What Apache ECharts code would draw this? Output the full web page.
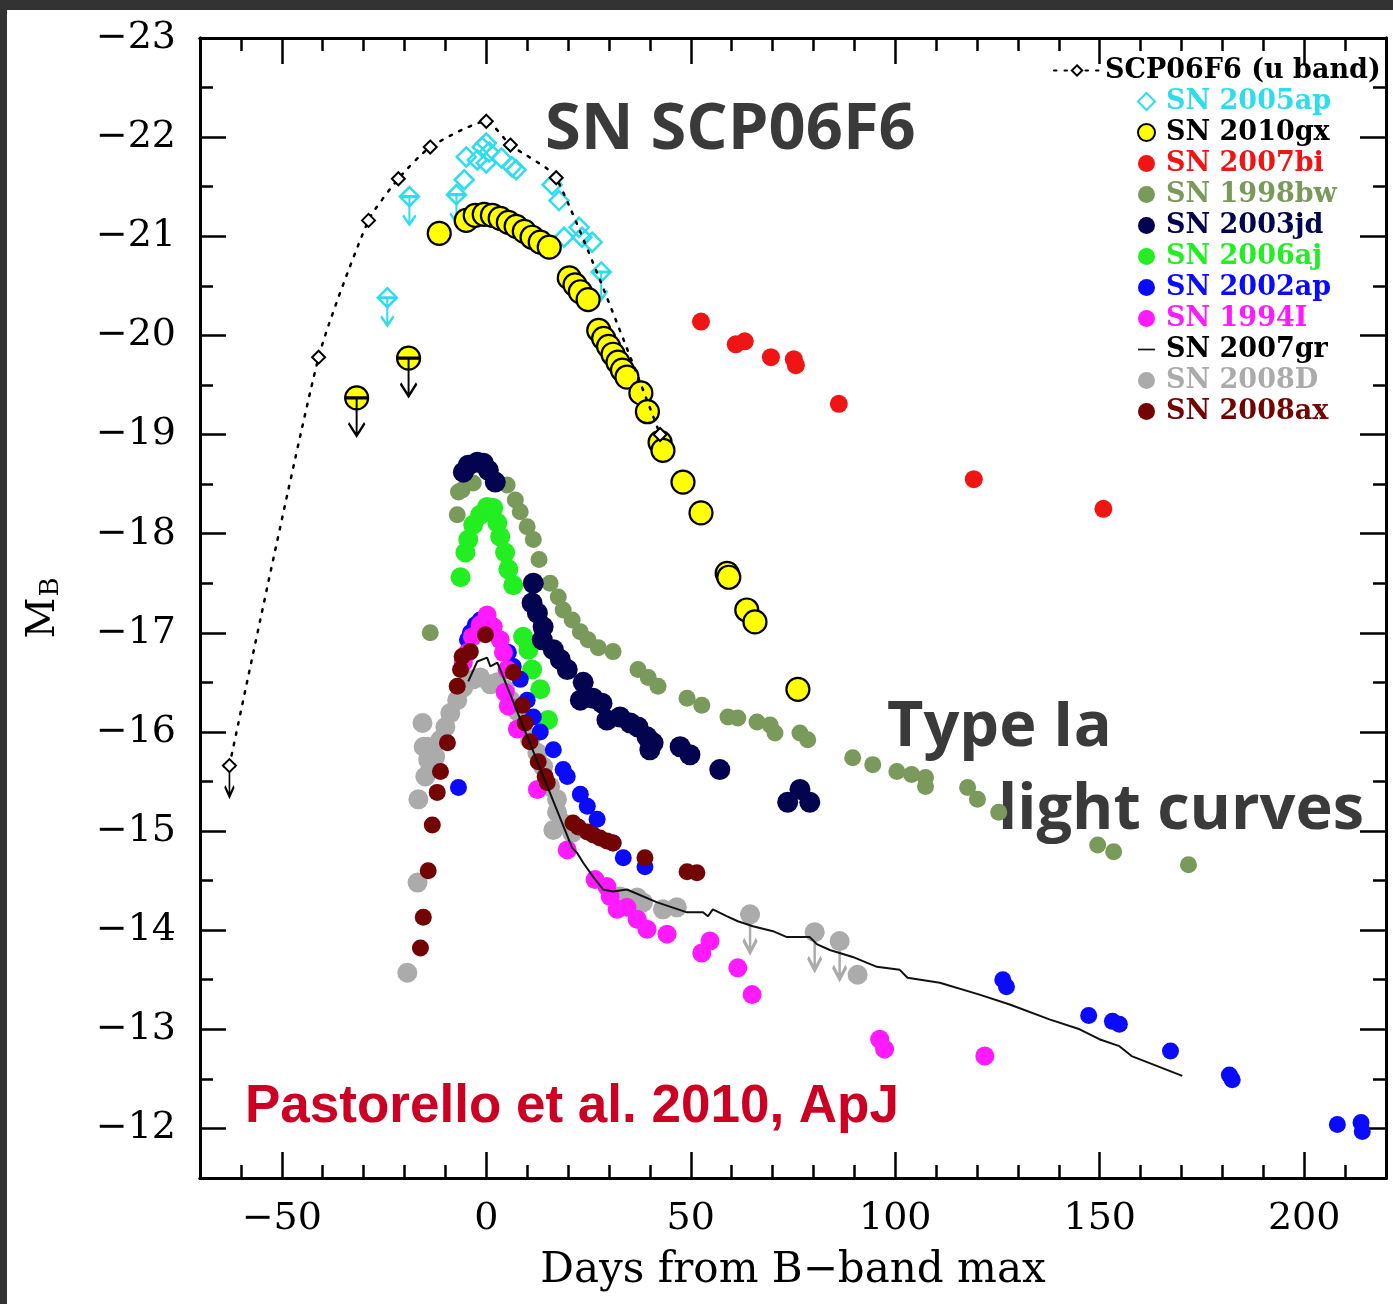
<!DOCTYPE html>
<html>
<head>
<meta charset="utf-8">
<title>SN SCP06F6 light curves</title>
<script src="https://cdn.jsdelivr.net/npm/echarts@6.0.0/dist/echarts.min.js"></script>
<style>
  html, body { margin: 0; padding: 0; background: #fff; }
  #chart { position: absolute; left: 0; top: 0; width: 1393px; height: 1304px; }
  .edge { position: absolute; background: #333; }
</style>
</head>
<body>
<div id="chart"></div>
<div class="edge" style="left:0;top:0;width:1393px;height:10px"></div>
<div class="edge" style="left:0;top:0;width:7px;height:1304px"></div>
<script>
// ---- data (days from B max, absolute B mag) ----
const scpDays = [-62.8, -41.0, -28.8, -21.5, -13.7, 0.0, 5.9, 17.1, 42.5];
const scpMag  = [-15.66, -19.78, -21.16, -21.58, -21.90, -22.16, -21.92, -21.59, -19.00];
const scpLimDays = [-62.8];
const scpLimMag  = [-15.66];

const ap05Days = [-5.4, -4.9, -2.2, -1.0, 0.0, 0.7, 0.0, 3.7, 6.3, 7.3, 16.1, 17.8, 19.0, 22.7, 23.4, 25.9];
const ap05Mag  = [-21.57, -21.80, -21.77, -21.90, -21.94, -21.85, -21.74, -21.79, -21.70, -21.67, -21.52, -21.36, -20.99, -21.09, -20.99, -20.94];
const ap05LimDays = [-24.2, -18.8, -7.3, 28.1];
const ap05LimMag  = [-20.38, -21.40, -21.42, -20.64];

const gx10Days = [-11.5, -4.9, -2.7, -0.5, 1.5, 3.4, 5.4, 7.3, 9.3, 11.2, 13.2, 15.4, 20.3, 21.7, 23.0, 24.9,
  27.5, 28.7, 29.9, 31.0, 32.2, 33.3, 34.4, 37.8, 39.4, 42.5, 43.2, 48.1, 52.5, 58.9, 59.3, 63.7, 65.7, 76.2];
const gx10Mag  = [-21.03, -21.16, -21.21, -21.22, -21.21, -21.18, -21.14, -21.10, -21.05, -20.99, -20.94, -20.89, -20.58, -20.51, -20.44, -20.36,
  -20.05, -19.97, -19.89, -19.81, -19.73, -19.65, -19.58, -19.42, -19.23, -18.92, -18.84, -18.52, -18.21, -17.60, -17.56, -17.23, -17.11, -16.43];
const gx10LimDays = [-31.7, -19.0];
const gx10LimMag  = [-19.37, -19.77];

const bi07Days = [52.5, 61.0, 63.2, 69.6, 75.2, 75.7, 86.2, 119.2, 150.9];
const bi07Mag  = [-20.14, -19.91, -19.94, -19.78, -19.76, -19.70, -19.31, -18.55, -18.25];

const bw98Days = [-13.7, -7.1, -6.8, -5.9, -3.2, 5.1, 7.1, 8.3, 10.0, 11.5, 12.9, 15.6, 17.6, 18.8, 21.0, 23.0, 24.9, 27.4, 31.0,
  37.1, 39.6, 42.0, 49.1, 52.7, 59.1, 61.5, 66.2, 69.4, 70.6, 76.7, 78.6, 89.6, 94.5, 100.4, 104.0, 107.4, 107.4,
  117.7, 120.1, 125.3, 149.5, 153.4, 171.7];
const bw98Mag  = [-17.00, -18.19, -18.42, -18.44, -18.51, -18.49, -18.34, -18.22, -18.07, -17.94, -17.74, -17.50, -17.36, -17.23, -17.13, -17.01, -16.93, -16.85, -16.81,
  -16.63, -16.55, -16.46, -16.34, -16.27, -16.15, -16.14, -16.10, -16.07, -15.99, -15.99, -15.92, -15.74, -15.67, -15.60, -15.57, -15.54, -15.45,
  -15.44, -15.32, -15.19, -14.86, -14.79, -14.66];

const jd03Days = [-5.6, -4.4, -2.2, -0.7, 0.5, 2.2, 11.5, 11.2, 12.5, 13.9, 13.7, 16.4, 18.1, 19.8, 23.7, 23.0, 26.1, 28.3, 29.5,
  32.7, 35.2, 37.1, 39.3, 40.8, 40.0, 47.4, 49.8, 57.1, 73.7, 76.7, 79.1];
const jd03Mag  = [-18.62, -18.69, -18.72, -18.71, -18.64, -18.52, -17.50, -17.30, -17.20, -17.06, -16.93, -16.83, -16.73, -16.63, -16.50, -16.32, -16.34, -16.29, -16.12,
  -16.15, -16.09, -16.05, -15.95, -15.89, -15.82, -15.85, -15.77, -15.62, -15.29, -15.42, -15.29];

const aj06Days = [-6.3, -5.1, -4.4, -3.2, -1.5, 0.2, 1.7, 2.7, 3.4, 4.6, 5.4, 6.6, 9.0, 10.3, 11.2, 13.2, 15.1];
const aj06Mag  = [-17.56, -17.81, -17.94, -18.09, -18.19, -18.27, -18.26, -18.11, -17.97, -17.81, -17.64, -17.48, -16.96, -16.83, -16.63, -16.43, -16.12];

const ap02Days = [-6.8, -4.6, -3.9, -2.7, -1.5, 1.0, 3.4, 5.4, 6.6, 8.3, 10.0, 11.5, 13.2, 16.4, 18.8, 19.8, 23.0, 24.7, 27.1, 31.0, 33.5, 38.8,
  126.3, 127.2, 147.3, 153.1, 154.8, 167.3, 181.7, 182.4, 208.1, 213.9, 214.2];
const ap02Mag  = [-15.44, -16.93, -17.00, -17.08, -17.13, -17.05, -16.93, -16.80, -16.66, -16.53, -16.32, -16.15, -16.00, -15.82, -15.62, -15.55, -15.37, -15.25, -15.12, -14.88, -14.73, -14.64,
  -13.50, -13.43, -13.14, -13.08, -13.05, -12.78, -12.54, -12.49, -12.04, -12.06, -11.97];

const i94Days = [-5.6, -4.6, -3.4, -1.5, 0.2, 1.7, 3.4, 4.2, 5.1, 4.6, 5.4, 7.6, 12.5, 19.8, 26.6, 29.5, 30.3, 32.0, 34.4, 36.9, 39.3,
  44.2, 52.7, 54.7, 61.5, 65.0, 96.2, 97.4, 121.9];
const i94Mag  = [-16.70, -16.80, -16.96, -17.08, -17.18, -17.06, -16.93, -16.80, -16.63, -16.40, -16.26, -16.03, -15.42, -14.81, -14.51, -14.44, -14.34, -14.21, -14.23, -14.11, -14.01,
  -13.96, -13.77, -13.89, -13.62, -13.35, -12.90, -12.80, -12.73];

const gr07Days = [-4.4, -2.2, 0.2, 1.0, 2.7, 3.4, 21.0, 22.2, 23.7, 26.1, 28.6, 31.0, 34.4, 41.8, 49.1, 53.0, 54.2, 55.4, 58.9, 61.5,
  65.2, 70.1, 73.5, 79.1, 80.8, 84.0, 89.6, 95.5, 101.1, 103.0, 110.9, 120.6, 128.0, 137.7, 145.1, 149.9, 154.8, 157.8, 170.2];
const gr07Mag  = [-16.51, -16.71, -16.75, -16.66, -16.70, -16.63, -14.83, -14.78, -14.68, -14.54, -14.41, -14.39, -14.41, -14.28, -14.18, -14.18, -14.14, -14.21, -14.14, -14.09,
  -14.04, -13.99, -13.93, -13.93, -13.86, -13.80, -13.73, -13.63, -13.60, -13.52, -13.47, -13.35, -13.25, -13.10, -13.00, -12.90, -12.83, -12.73, -12.53];

const d08Days = [-19.3, -16.8, -16.6, -15.6, -15.3, -14.9, -14.4, -14.2, -13.7, -12.5, -11.2, -10.0, -8.8, -7.1, -5.6, -3.2, -1.5, 1.0, 2.7, 4.6,
  5.9, 7.6, 9.0, 10.7, 12.5, 13.9, 15.6, 17.3, 17.3, 16.4, 18.8, 21.0, 32.7, 34.4, 36.9, 38.3, 43.2, 46.6, 90.8];
const d08Mag  = [-13.57, -14.48, -15.32, -16.09, -15.85, -15.55, -15.85, -15.72, -15.62, -15.75, -15.92, -16.05, -16.19, -16.32, -16.45, -16.53, -16.55, -16.48, -16.50, -16.43,
  -16.32, -16.21, -16.07, -15.92, -15.79, -15.65, -15.45, -15.32, -15.19, -15.01, -15.08, -14.98, -14.34, -14.31, -14.33, -14.28, -14.21, -14.23, -13.55];
const d08LimDays = [64.5, 80.3, 86.4];
const d08LimMag  = [-14.16, -13.98, -13.89];

const ax08Days = [-16.1, -15.4, -14.2, -13.2, -12.0, -11.2, -9.5, -7.1, -6.3, -5.9, -3.9, -0.2, 6.6, 8.8, 9.5, 10.7, 12.7, 14.4, 14.9,
  21.2, 22.5, 24.7, 26.2, 27.8, 29.5, 31.0, 38.8, 49.1, 51.5];
const ax08Mag  = [-13.82, -14.13, -14.60, -15.06, -15.39, -15.60, -15.89, -16.46, -16.63, -16.76, -16.81, -16.98, -16.60, -16.27, -16.09, -15.90, -15.70, -15.55, -15.49,
  -15.08, -15.04, -14.99, -14.96, -14.93, -14.90, -14.88, -14.73, -14.59, -14.58];

// ---- ticks ----
const xMajorTicks = [-50, 0, 50, 100, 150, 200];
const xMinorTicks = [-60, -40, -30, -20, -10, 10, 20, 30, 40, 60, 70, 80, 90, 110, 120, 130, 140, 160, 170, 180, 190, 210];
const yMajorTicks = [-23, -22, -21, -20, -19, -18, -17, -16, -15, -14, -13, -12];
const yMinorTicks = [-22.5, -21.5, -20.5, -19.5, -18.5, -17.5, -16.5, -15.5, -14.5, -13.5, -12.5];

const legendNames = ['SN 2005ap', 'SN 2010gx', 'SN 2007bi', 'SN 1998bw', 'SN 2003jd', 'SN 2006aj',
  'SN 2002ap', 'SN 1994I', 'SN 2007gr', 'SN 2008D', 'SN 2008ax'];

const colors = {
  'SN 2005ap': '#2fdcec', 'SN 2010gx': '#ffff00', 'SN 2007bi': '#f01414', 'SN 1998bw': '#7a9a5c',
  'SN 2003jd': '#03034f', 'SN 2006aj': '#22ee22', 'SN 2002ap': '#0a0aff', 'SN 1994I': '#ff1aff',
  'SN 2007gr': '#111111', 'SN 2008D': '#ababab', 'SN 2008ax': '#720404'
};
const legendText = { 'SN 2010gx': '#000', 'SN 2007gr': '#000' };

const serif = 'DejaVu Serif';

function pts(days, mags) {
  return days.map((d, i) => [d, mags[i]]);
}
function fmt(v) {
  return (v < 0 ? '\u2212' : '') + Math.abs(v);
}

function dots(name, days, mags, size, extra) {
  return Object.assign({
    type: 'scatter', name: name, data: pts(days, mags),
    symbol: 'circle', symbolSize: size, silent: true,
    itemStyle: { color: colors[name], opacity: 1 }
  }, extra || {});
}

// upper limit arrow: bar through the marker plus a downward arrow
function arrows(name, days, mags, color, w, h, lw) {
  return {
    type: 'scatter', name: name, data: pts(days, mags), silent: true,
    symbol: 'path://M-10,0L10,0M0,0L0,30M-7,20L0,30L7,20',
    symbolSize: [w, h], symbolOffset: [0, h / 2],
    itemStyle: { color: 'none', borderColor: color, borderWidth: lw, opacity: 1 }
  };
}

function xAx(position, ticks, len, withLabels) {
  return {
    type: 'value', position: position, min: -70, max: 220,
    axisLine: { show: true, onZero: false, lineStyle: { color: '#000', width: 3 } },
    axisTick: { show: true, inside: true, length: len, customValues: ticks, lineStyle: { color: '#000', width: 2.5 } },
    axisLabel: { show: withLabels, customValues: ticks, formatter: fmt, fontFamily: serif, fontSize: 38, color: '#000', margin: 22 },
    splitLine: { show: false }
  };
}
function yAx(position, ticks, len, withLabels) {
  return {
    type: 'value', position: position, inverse: true, min: -23, max: -11.5,
    axisLine: { show: true, onZero: false, lineStyle: { color: '#000', width: 3 } },
    axisTick: { show: true, inside: true, length: len, customValues: ticks, lineStyle: { color: '#000', width: 2.5 } },
    axisLabel: { show: withLabels, customValues: ticks, formatter: fmt, fontFamily: serif, fontSize: 38, color: '#000', margin: 24 },
    splitLine: { show: false }
  };
}

const xMain = xAx('bottom', xMajorTicks, 26, true);
xMain.name = 'Days from B\u2212band max';
xMain.nameLocation = 'middle';
xMain.nameGap = 72;
xMain.nameTextStyle = { fontFamily: serif, fontSize: 42, color: '#000' };

const yMain = yAx('left', yMajorTicks, 26, true);
yMain.name = '{m|M}{b|B}';
yMain.nameLocation = 'middle';
yMain.nameRotate = 90;
yMain.nameGap = 136;
yMain.nameTextStyle = {
  rich: {
    m: { fontFamily: serif, fontSize: 40, color: '#000', verticalAlign: 'top', lineHeight: 40, padding: [0, 0, 10, 0] },
    b: { fontFamily: serif, fontSize: 26, color: '#000', verticalAlign: 'bottom', lineHeight: 26, padding: [0, 0, 0, 1] }
  }
};

const chart = echarts.init(document.getElementById('chart'));

chart.setOption({
  animation: false,
  backgroundColor: '#fff',
  grid: { left: 200, right: 7, top: 38, bottom: 126, containLabel: false },
  xAxis: [
    xMain,
    xAx('bottom', xMinorTicks, 13, false),
    xAx('top', xMajorTicks, 26, false),
    xAx('top', xMinorTicks, 13, false)
  ],
  yAxis: [
    yMain,
    yAx('left', yMinorTicks, 13, false),
    yAx('right', yMajorTicks, 26, false),
    yAx('right', yMinorTicks, 13, false)
  ],
  legend: [
    {
      data: ['SCP06F6 (u band)'],
      left: 1048, top: 52, itemWidth: 46, itemHeight: 13,
      selectedMode: false,
      textStyle: { fontFamily: serif, fontSize: 27, fontWeight: 'bold', color: '#000', padding: [0, 0, 0, 0] }
    },
    {
      data: legendNames.map(n => {
        const item = { name: n, textStyle: { color: legendText[n] || colors[n] } };
        if (n === 'SN 2007gr') {
          item.icon = 'path://M0,0L24,0L24,2.4L0,2.4Z';
        }
        return item;
      }),
      orient: 'vertical', left: 1132, top: 83, itemWidth: 17, itemHeight: 17, itemGap: 4,
      selectedMode: false,
      textStyle: { fontFamily: serif, fontSize: 27, fontWeight: 'bold', padding: [0, 0, 0, 6] }
    }
  ],
  graphic: [
    { type: 'text', x: 545, y: 130, silent: true,
      style: { text: 'SN SCP06F6', font: 'bold 65px "Open Sans"', fill: '#3a3a3a', textVerticalAlign: 'middle' } },
    { type: 'text', x: 887, y: 728, silent: true,
      style: { text: 'Type Ia', font: 'bold 63px "Open Sans"', fill: '#3a3a3a', textVerticalAlign: 'middle' } },
    { type: 'text', x: 998, y: 811, silent: true,
      style: { text: 'light curves', font: 'bold 63px "Open Sans"', fill: '#3a3a3a', textVerticalAlign: 'middle' } },
    { type: 'text', x: 245, y: 1107, silent: true,
      style: { text: 'Pastorello et al. 2010, ApJ', font: 'bold 53px "Liberation Sans"', fill: '#cc0022', textVerticalAlign: 'middle' } }
  ],
  series: [
    {
      type: 'line', name: 'SN 2007gr', data: pts(gr07Days, gr07Mag), symbol: 'none', silent: true,
      lineStyle: { color: colors['SN 2007gr'], width: 2 }, itemStyle: { color: colors['SN 2007gr'] }
    },
    dots('SN 2008D', d08Days.concat(d08LimDays), d08Mag.concat(d08LimMag), 20),
    arrows('SN 2008D limits', d08LimDays, d08LimMag, colors['SN 2008D'], 19, 38, 3.5),
    dots('SN 1998bw', bw98Days, bw98Mag, 17),
    dots('SN 2006aj', aj06Days, aj06Mag, 20),
    dots('SN 2002ap', ap02Days, ap02Mag, 17),
    dots('SN 1994I', i94Days, i94Mag, 19),
    dots('SN 2008ax', ax08Days, ax08Mag, 17),
    dots('SN 2003jd', jd03Days, jd03Mag, 21),
    dots('SN 2007bi', bi07Days, bi07Mag, 18),
    dots('SN 2005ap', ap05Days.concat(ap05LimDays), ap05Mag.concat(ap05LimMag), 19, {
      symbol: 'diamond',
      itemStyle: { color: 'rgba(255,255,255,0)', borderColor: colors['SN 2005ap'], borderWidth: 2.5, opacity: 1 }
    }),
    arrows('SN 2005ap limits', ap05LimDays, ap05LimMag, colors['SN 2005ap'], 18, 28, 2.5),
    dots('SN 2010gx', gx10Days.concat(gx10LimDays), gx10Mag.concat(gx10LimMag), 23, {
      itemStyle: { color: colors['SN 2010gx'], borderColor: '#000', borderWidth: 2.2, opacity: 1 }
    }),
    arrows('SN 2010gx limits', gx10LimDays, gx10LimMag, '#000', 23, 38, 2.5),
    {
      type: 'line', name: 'SCP06F6 (u band)', data: pts(scpDays, scpMag), smooth: 0.2, silent: true,
      symbol: 'diamond', symbolSize: 13, showSymbol: true,
      lineStyle: { color: '#000', width: 2.5, type: [2.5, 8], cap: 'round' },
      itemStyle: { color: '#fff', borderColor: '#000', borderWidth: 2 }
    },
    arrows('SCP06F6 limits', scpLimDays, scpLimMag, '#000', 13, 31, 2.5)
  ]
});
</script>
</body>
</html>
